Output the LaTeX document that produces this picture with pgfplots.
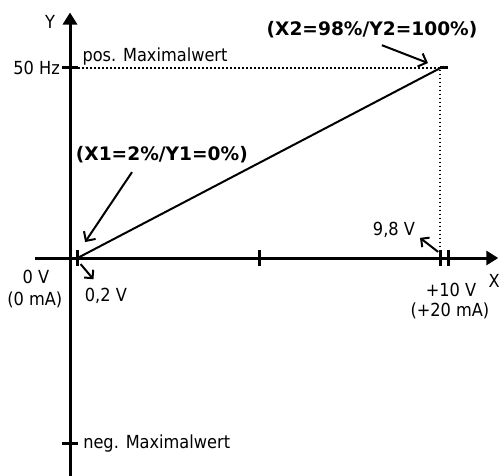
\documentclass[border=0pt]{standalone}
\usepackage{pgfplots}
\pgfplotsset{compat=1.18}
\usepackage{fontspec}
\setmainfont{DejaVu Sans}
\newfontfamily\condfont{DejaVu Sans Condensed}
\usetikzlibrary{arrows.meta}
\tikzset{lbl/.style={font=\condfont\fontsize{9}{10.8}\selectfont, inner sep=0pt},
         blbl/.style={font=\fontsize{9.3}{11}\selectfont\bfseries, inner sep=0pt}}
\begin{document}
\begin{tikzpicture}
\begin{axis}[scale only axis, width=249.5pt, height=237.5pt,
  xmin=-1.852, xmax=11.349, ymin=-57.1, ymax=67.89,
  hide axis, clip=false]
\coordinate (BL) at (rel axis cs:0,0);
\coordinate (TR) at (rel axis cs:1,1);
% axes
\draw[line width=1.5pt, -{Triangle[length=6pt,width=7pt]}] (axis cs:-0.93,0) -- (axis cs:11.33,0);
\draw[line width=1.5pt, -{Triangle[length=6pt,width=7pt]}] (axis cs:0,-57.5) -- (axis cs:0,64.6);
% ticks
\draw[line width=1.5pt] (axis cs:0.2,-2.1) -- (axis cs:0.2,2.1);
\draw[line width=1.5pt] (axis cs:5,-2.1) -- (axis cs:5,2.1);
\draw[line width=1.5pt] (axis cs:9.8,-2.1) -- (axis cs:9.8,2.1);
\draw[line width=1.5pt] (axis cs:10,-2.1) -- (axis cs:10,2.1);
\draw[line width=1.5pt] (axis cs:-0.2,50) -- (axis cs:0.2,50);
\draw[line width=1.5pt] (axis cs:-0.2,-48.7) -- (axis cs:0.2,-48.7);
% data
\addplot[black, line width=1pt, dash pattern=on 0.8pt off 1.2pt] coordinates {(0,50) (9.8,50) (9.8,0)};
\addplot[black, line width=1.5pt] coordinates {(9.8,50) (10,50)};
\addplot[black, line width=1pt] coordinates {(0.2,0) (9.8,50)};
% annotation arrows
\draw[line width=1pt, -{Straight Barb[length=3.5pt,width=7pt]}] (axis cs:8.25,56.0) -- (axis cs:9.47,51.3);
\draw[line width=1pt, -{Straight Barb[length=3.5pt,width=7pt]}] (axis cs:1.64,22.6) -- (axis cs:0.40,4.2);
\draw[line width=1pt, -{Straight Barb[length=3pt,width=6pt]}] (axis cs:0.28,-1.6) -- (axis cs:0.62,-5.6);
\draw[line width=1pt, -{Straight Barb[length=3pt,width=6pt]}] (axis cs:9.74,1.6) -- (axis cs:9.26,5.3);
% labels
\node[lbl] at (axis cs:-0.53,62.1) {Y};
\node[lbl] at (axis cs:11.22,-6.0) {X};
\node[lbl, anchor=east] at (axis cs:-0.26,50) {50 Hz};
\node[lbl, anchor=west] at (axis cs:0.32,52.9) {pos. Maximalwert};
\node[lbl, anchor=west] at (axis cs:0.34,-48.7) {neg. Maximalwert};
\node[blbl] at (axis cs:7.99,60) {(X2=98\%/Y2=100\%)};
\node[blbl] at (axis cs:2.43,27.1) {(X1=2\%/Y1=0\%)};
\node[lbl] at (axis cs:-0.90,-5.0) {0 V};
\node[lbl] at (axis cs:-0.93,-11.0) {(0 mA)};
\node[lbl] at (axis cs:0.95,-10.0) {0,2 V};
\node[lbl] at (axis cs:8.57,7.4) {9,8 V};
\node[lbl] at (axis cs:10.08,-8.4) {+10 V};
\node[lbl] at (axis cs:10.05,-13.9) {(+20 mA)};
\end{axis}
\pgfresetboundingbox
\path (BL) rectangle (TR);
\end{tikzpicture}
\end{document}
